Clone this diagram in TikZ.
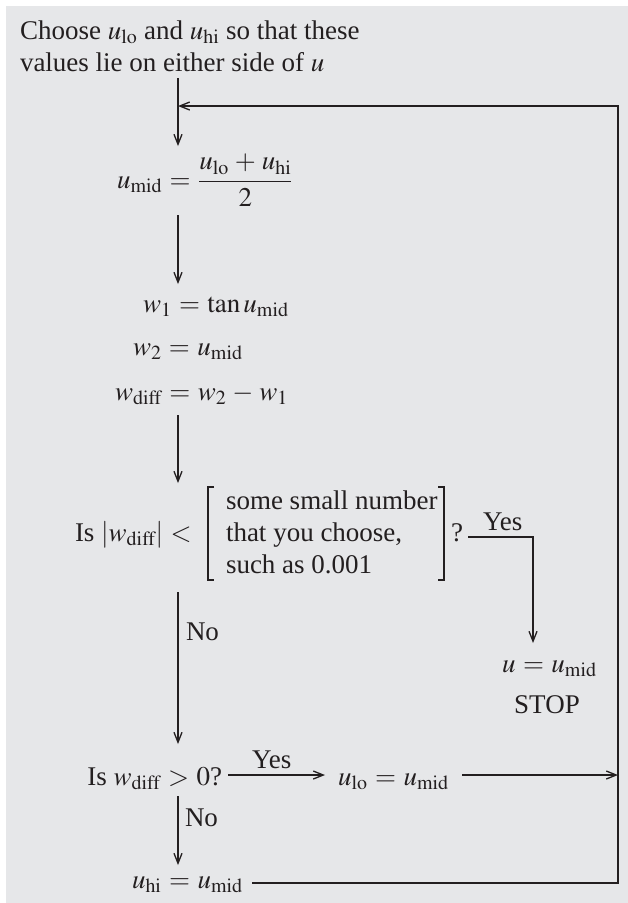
\documentclass[tikz,border=0pt]{standalone}
\usepackage{mathptmx}
\usepackage{fontspec}
\setmainfont{Liberation Serif}
\usetikzlibrary{arrows.meta}
\definecolor{panel}{HTML}{E6E7E9}
\definecolor{ink}{HTML}{231F20}

\begin{document}
\thickmuskip=5mu plus 3mu
\medmuskip=4mu plus 2mu
\begin{tikzpicture}[x=1pt,y=-1pt,
  every node/.style={inner sep=0pt, outer sep=0pt, text=ink,
    font=\fontsize{27}{32}\selectfont},
  wire/.style={draw=ink, line width=1.3pt, line join=miter},
  flow/.style={wire, -{Straight Barb[length=10pt,width=8pt,line width=1.3pt]}}]

% page and grey panel
\useasboundingbox (0,0) rectangle (628,903);
\fill[panel] (6,6) rectangle (628,903);

% start instruction
\node[anchor=base west] (title1) at (20,39) {Choose $u_{\mathrm{lo}}$ and $u_{\mathrm{hi}}$ so that these};
\node[anchor=base west] (title2) at (20,71) {values lie on either side of $u$};

% bisection step and function values
\node[anchor=base west] (umid) at (117,188)
  {$\displaystyle u_{\mathrm{mid}} = \frac{u_{\mathrm{lo}} + u_{\mathrm{hi}}}{2}$};
\node[anchor=base west] (w1) at (143,312) {$w_1 = \tan u_{\mathrm{mid}}$};
\node[anchor=base west] (w2) at (133,355) {$w_2 = u_{\mathrm{mid}}$};
\node[anchor=base west] (wd) at (115,400) {$w_{\mathrm{diff}} = w_2 - w_1$};

% convergence test
\node[anchor=base west] (test1) at (75,541) {Is $|w_{\mathrm{diff}}| <$};
\node[anchor=north west, align=left] (lim) at (226,491)
  {some small number\\that you choose,\\such as 0.001};
\node[anchor=base west] (q) at (451,541) {?};
\node[anchor=base west] (yes1) at (483,530) {Yes};
\node[anchor=base west] (ustop) at (502,672) {$u = u_{\mathrm{mid}}$};
\node[anchor=base] (stop) at (547,713) {STOP};
\node[anchor=base west] (no1) at (186,640) {No};

% sign test and updates
\node[anchor=base east] (test2) at (222,785) {Is $w_{\mathrm{diff}} > 0$?};
\node[anchor=base west] (yes2) at (252,768) {Yes};
\node[anchor=base west] (ulo) at (338,785) {$u_{\mathrm{lo}} = u_{\mathrm{mid}}$};
\node[anchor=base west] (no2) at (185,826) {No};
\node[anchor=base west] (uhi) at (132,888) {$u_{\mathrm{hi}} = u_{\mathrm{mid}}$};

% brackets round the tolerance
\draw[wire] (214,487) -- (208,487) -- (208,580) -- (214,580);
\draw[wire] (438,487) -- (444,487) -- (444,580) -- (438,580);

% connector end points
\coordinate (a0) at (178,78);   \coordinate (a1) at (178,146);
\coordinate (a2) at (178,215);  \coordinate (a3) at (178,284);
\coordinate (a4) at (178,415);  \coordinate (a5) at (178,483);
\coordinate (a6) at (178,592);  \coordinate (a7) at (178,744);
\coordinate (a8) at (178,796);  \coordinate (a9) at (178,865);
\coordinate (y0) at (468,537);  \coordinate (y1) at (533,537);
\coordinate (y2) at (533,643);
\coordinate (s0) at (228,775);  \coordinate (s1) at (325,775);
\coordinate (r0) at (462,775);  \coordinate (r1) at (618,775);
\coordinate (b0) at (252,883);  \coordinate (b1) at (618,883);
\coordinate (b2) at (618,106);  \coordinate (loop) at (178,106);

% main column
\draw[flow] (a0) -- (a1);
\draw[flow] (a2) -- (a3);
\draw[flow] (a4) -- (a5);
\draw[flow] (a6) -- (a7);
\draw[flow] (a8) -- (a9);

% yes branch to the result
\draw[flow] (y0) -- (y1) -- (y2);

% updates and the loop back
\draw[flow] (s0) -- (s1);
\draw[flow] (r0) -- (r1);
\draw[flow] (b0) -- (b1) -- (b2) -- (loop);
\end{tikzpicture}
\end{document}
